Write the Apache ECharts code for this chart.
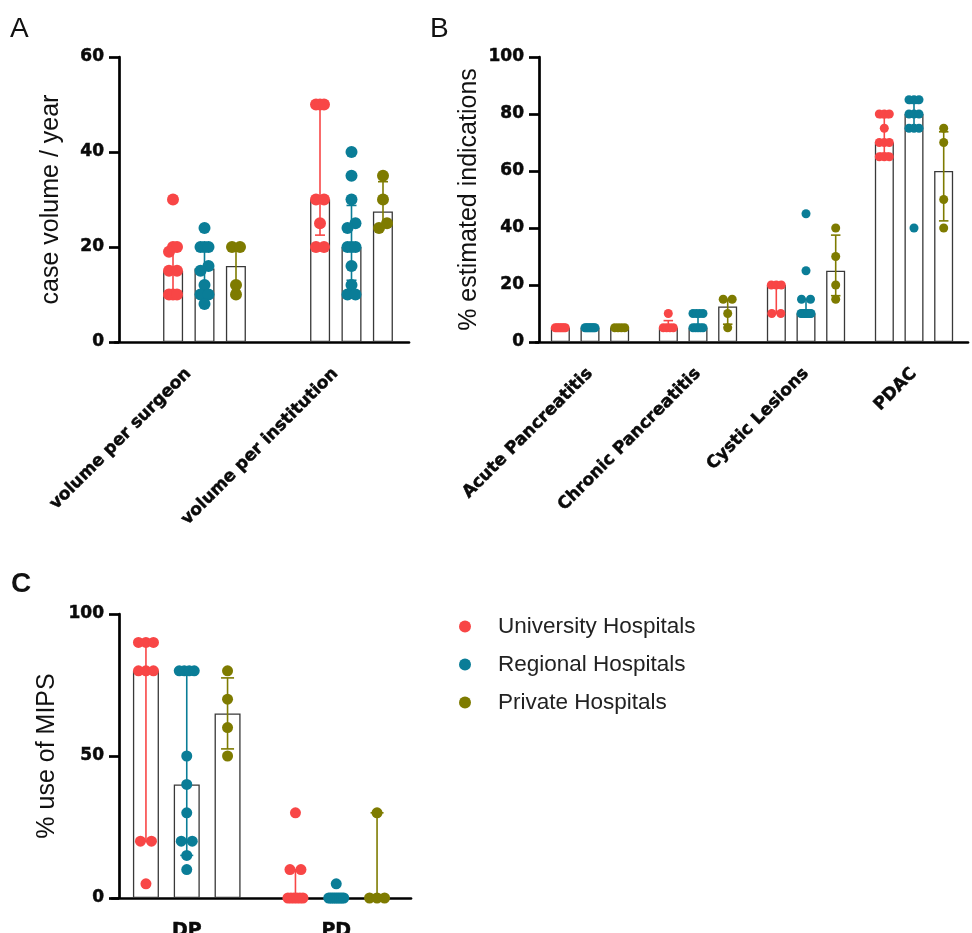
<!DOCTYPE html>
<html><head><meta charset="utf-8">
<script src="https://cdn.jsdelivr.net/npm/echarts@6/dist/echarts.min.js"></script>
<style>html,body{margin:0;padding:0;background:#fff}#c{width:972px;height:933px}</style>
</head><body><div id="c"></div>
<script>
// ---------------- DATA ----------------
const hospitals = ['University Hospitals', 'Regional Hospitals', 'Private Hospitals'];

// Panel A
const catsA = ['volume per surgeon', 'volume per institution'];
const yTicksA = [0, 20, 40, 60];
const medianA = [[15, 30], [15.5, 20], [16, 27.5]];
const lowA = [[10, 22.5], [10, 13], [10.5, 24.25]];
const highA = [[19.5, 50], [20, 28.75], [20, 33.75]];
const pointsA = [
  [[30, 20, 20, 19, 15, 15, 10, 10, 10], [50, 50, 50, 30, 30, 25, 20, 20]],
  [[24, 20, 20, 20, 16, 15, 12, 10, 10, 8], [40, 35, 30, 25, 24, 20, 20, 20, 16, 12, 10, 10]],
  [[20, 20, 12, 10], [35, 30, 25, 24]]
];

// Panel B
const catsB = ['Acute Pancreatitis', 'Chronic Pancreatitis', 'Cystic Lesions', 'PDAC'];
const yTicksB = [0, 20, 40, 60, 80, 100];
const medianB = [[5, 5, 20, 70], [5, 5, 10, 80], [5, 12.5, 25, 60]];
const lowB = [[5, 5, 10, 66.25], [5, 5, 10, 75], [5, 6.25, 16.25, 42.5]];
const highB = [[5, 7.5, 20, 78.75], [5, 10, 15, 83.75], [5, 15, 37.5, 73.75]];
const pointsB = [
  [[5, 5, 5, 5, 5, 5, 5], [10, 5, 5, 5, 5], [20, 20, 20, 10, 10], [80, 80, 80, 75, 70, 70, 70, 65, 65, 65]],
  [[5, 5, 5, 5, 5, 5, 5, 5], [10, 10, 10, 10, 5, 5, 5, 5, 5], [45, 25, 15, 15, 10, 10, 10, 10, 10, 10, 10], [85, 85, 85, 80, 80, 80, 75, 75, 75, 40]],
  [[5, 5, 5, 5], [15, 15, 10, 5], [40, 30, 20, 15], [75, 70, 50, 40]]
];

// Panel C
const catsC = ['DP', 'PD'];
const yTicksC = [0, 50, 100];
const medianC = [[80, 0], [40, 0], [65, 0]];
const lowC = [[20, 0], [15, 0], [52.5, 0]];
const highC = [[90, 10], [80, 0], [77.5, 30]];
const pointsC = [
  [[90, 90, 90, 80, 80, 80, 20, 20, 5], [30, 10, 10, 0, 0, 0, 0, 0, 0]],
  [[80, 80, 80, 80, 50, 40, 30, 20, 20, 15, 10], [5, 0, 0, 0, 0, 0, 0, 0, 0, 0]],
  [[80, 70, 60, 50], [30, 0, 0, 0]]
];

// ---------------- STYLE / LAYOUT ----------------
const COLORS = ['#F84646', '#0A7D97', '#7E7B00'];
const BOLD = 'DejaVu Sans';
const REG = 'Liberation Sans';
const INK = '#0a0a0a';

const layoutA = {left: 115, top: 57, width: 294, height: 285, shift: 16, yOffset: -4, barW: 20, pitch: 31.5, dot: 12, nameGap: 55, labelMargin: 29, rotate: 45, xFont: 17};
const layoutB = {left: 536, top: 57, width: 432, height: 285, shift: 0, yOffset: -3, barW: 19, pitch: 29.7, dot: 9, nameGap: 57, labelMargin: 29, rotate: 45, xFont: 17};
const layoutC = {left: 112, top: 614, width: 299, height: 284, shift: 0, yOffset: -7, barW: 26, pitch: 40.8, dot: 11, nameGap: 59, labelMargin: 24, rotate: 0, xFont: 19};

const grids = [], xAxes = [], yAxes = [], series = [];

function spreadDots(ys, d, W) {
  // rows of points at (almost) the same height are spread side by side inside the bar width
  const order = ys.map((y, j) => j).sort((a, b) => ys[b] - ys[a]);
  const dx = new Array(ys.length).fill(0);
  let row = [];
  const flush = () => {
    const n = row.length;
    const step = n > 1 ? Math.min(d, (W - d) / (n - 1)) : 0;
    row.forEach((j, r) => { dx[j] = (r - (n - 1) / 2) * step; });
    row = [];
  };
  order.forEach(j => {
    if (row.length && Math.abs(ys[j] - ys[row[0]]) > 0.45 * d) flush();
    row.push(j);
  });
  if (row.length) flush();
  return dx;
}

function makeGrid(cfg, dx) {
  return {left: cfg.left + dx, top: cfg.top, width: cfg.width, height: cfg.height, containLabel: false, outerBoundsMode: 'none'};
}

function addPanel(cfg, cats, ticks, med, lo, hi, pts, yName) {
  const axisLineStyle = {color: '#000', width: 2.7};
  const boldLabel = {fontFamily: BOLD, fontWeight: 'bold', color: INK, textBorderColor: INK, textBorderWidth: 0.5};
  const g = grids.length;
  grids.push(makeGrid(cfg, 0));
  xAxes.push({
    type: 'category', gridIndex: g, data: cats, boundaryGap: true,
    axisLine: {lineStyle: axisLineStyle},
    axisTick: {alignWithLabel: true, length: 11, lineStyle: axisLineStyle},
    axisLabel: Object.assign({rotate: cfg.rotate, interval: 0, margin: cfg.labelMargin, fontSize: cfg.xFont}, boldLabel),
    splitLine: {show: false}
  });
  yAxes.push({
    type: 'value', gridIndex: g, min: ticks[0], max: ticks[ticks.length - 1], interval: ticks[1] - ticks[0],
    offset: cfg.yOffset,
    name: yName, nameLocation: 'middle', nameGap: cfg.nameGap,
    nameTextStyle: {fontFamily: REG, fontSize: 25, color: '#111'},
    axisLine: {show: true, lineStyle: axisLineStyle},
    axisTick: {show: true, length: 10, lineStyle: axisLineStyle},
    axisLabel: Object.assign({margin: 15, fontSize: 17}, boldLabel),
    splitLine: {show: false}
  });
  let xi = xAxes.length - 1, yi = yAxes.length - 1;
  if (cfg.shift) {
    const g2 = grids.length;
    grids.push(makeGrid(cfg, cfg.shift));
    xAxes.push({type: 'category', gridIndex: g2, data: cats, boundaryGap: true, show: false});
    yAxes.push({type: 'value', gridIndex: g2, min: ticks[0], max: ticks[ticks.length - 1], interval: ticks[1] - ticks[0], show: false});
    xi = xAxes.length - 1; yi = yAxes.length - 1;
  }
  const gapPct = Math.round((cfg.pitch - cfg.barW) / cfg.barW * 100) + '%';
  for (let k = 0; k < 3; k++) {
    series.push({
      type: 'bar', name: 'median ' + hospitals[k], xAxisIndex: xi, yAxisIndex: yi,
      data: med[k], barWidth: cfg.barW, barGap: gapPct, silent: true, z: 2,
      itemStyle: {color: '#fff', borderColor: '#383838', borderWidth: 1.3}
    });
  }
  for (let k = 0; k < 3; k++) {
    const color = COLORS[k];
    const groupPts = pts[k];
    series.push({
      type: 'custom', name: hospitals[k], xAxisIndex: xi, yAxisIndex: yi, z: 4, silent: true,
      itemStyle: {color: color},
      data: cats.map((c, i) => [i, lo[k][i], hi[k][i]]),
      renderItem: function (params, api) {
        const i = api.value(0);
        const cx = api.coord([i, 0])[0] + (k - 1) * cfg.pitch;
        const children = [];
        const yLo = api.coord([i, api.value(1)])[1];
        const yHi = api.coord([i, api.value(2)])[1];
        const cap = cfg.barW * 0.5;
        if (Math.abs(yLo - yHi) > 0.5) {
          const ls = {stroke: color, lineWidth: 1.6};
          children.push({type: 'line', shape: {x1: cx, y1: yLo, x2: cx, y2: yHi}, style: ls});
          children.push({type: 'line', shape: {x1: cx - cap / 2, y1: yLo, x2: cx + cap / 2, y2: yLo}, style: ls});
          children.push({type: 'line', shape: {x1: cx - cap / 2, y1: yHi, x2: cx + cap / 2, y2: yHi}, style: ls});
        }
        const vals = groupPts[i];
        const ys = vals.map(v => api.coord([i, v])[1]);
        const dx = spreadDots(ys, cfg.dot, cfg.barW);
        ys.forEach((y, j) => {
          children.push({type: 'circle', shape: {cx: cx + dx[j], cy: y, r: cfg.dot / 2}, style: {fill: color}});
        });
        return {type: 'group', children: children};
      }
    });
  }
}

addPanel(layoutA, catsA, yTicksA, medianA, lowA, highA, pointsA, 'case volume / year');
addPanel(layoutB, catsB, yTicksB, medianB, lowB, highB, pointsB, '% estimated indications');
addPanel(layoutC, catsC, yTicksC, medianC, lowC, highC, pointsC, '% use of MIPS');

const chart = echarts.init(document.getElementById('c'), null, {renderer: 'canvas'});
chart.setOption({
  animation: false,
  backgroundColor: '#fff',
  grid: grids,
  xAxis: xAxes,
  yAxis: yAxes,
  series: series,
  legend: {
    orient: 'vertical', left: 454, top: 610, itemWidth: 56, itemHeight: 12, itemGap: 15,
    icon: 'circle', selectedMode: false,
    textStyle: {fontFamily: REG, fontSize: 22.5, color: '#222'},
    data: hospitals.map((n, k) => ({name: n, itemStyle: {color: COLORS[k]}}))
  },
  graphic: [
    {type: 'text', left: 10, top: 15, style: {text: 'A', font: '28px "Liberation Sans"', fill: '#111'}},
    {type: 'text', left: 430, top: 15, style: {text: 'B', font: '28px "Liberation Sans"', fill: '#111'}},
    {type: 'text', left: 11, top: 570, style: {text: 'C', font: 'bold 28px "Liberation Sans"', fill: '#111'}}
  ]
});
</script>
</body></html>
